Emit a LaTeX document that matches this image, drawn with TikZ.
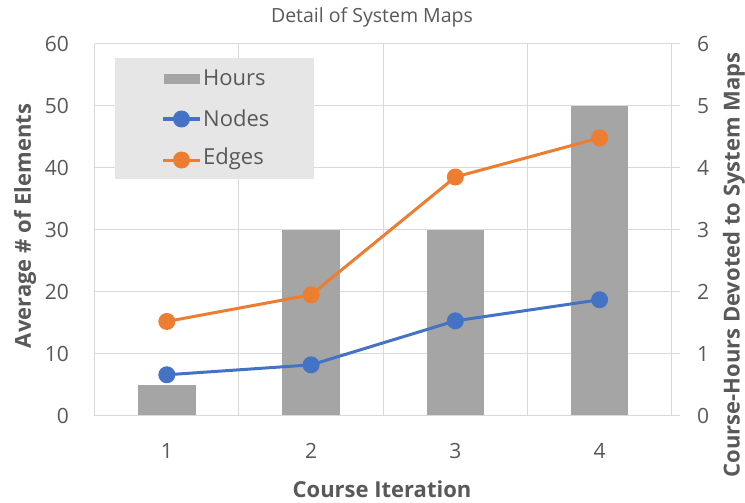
\documentclass[tikz,border=0pt]{standalone}
\usepackage{fontspec}
\setmainfont{Open Sans}
\definecolor{txt}{HTML}{595959}
\definecolor{gridc}{HTML}{D9D9D9}
\definecolor{barc}{HTML}{A5A5A5}
\definecolor{bluec}{HTML}{4472C4}
\definecolor{orangec}{HTML}{ED7D31}
\definecolor{legc}{HTML}{E6E6E6}
\begin{document}
\begin{tikzpicture}[x=1pt,y=-1pt,
  grid/.style={draw=gridc,line width=1pt},
  bar/.style={fill=barc,draw=none},
  series/.style={line width=3pt,line join=round},
  marker/.style={circle,inner sep=0pt,minimum size=17pt,draw=none},
  ticklab/.style={text=txt,font=\fontsize{21}{24}\selectfont,inner sep=0pt},
  axtitle/.style={text=txt,font=\fontsize{22}{26}\selectfont\bfseries,inner sep=0pt},
  leglab/.style={text=txt,font=\fontsize{22}{26}\selectfont,inner sep=0pt,anchor=west}]
\useasboundingbox (0,0) rectangle (745,503);
\fill[white] (0,0) rectangle (745,503);
% plot frame: x from 94.7 to 671.7, value 0 at y=415.7, 6.2 px per unit
\def\L{94.7}\def\R{671.7}\def\B{415.7}\def\T{43.7}
% horizontal gridlines and tick labels
\foreach \v/\h in {0/0,10/1,20/2,30/3,40/4,50/5,60/6}{
  \draw[grid] (\L,{\B-\v*6.2}) -- (680,{\B-\v*6.2});
  \node[ticklab,anchor=east] (yl\v) at (69,{\B-\v*6.2}) {\v};
  \node[ticklab,anchor=west] (yr\h) at (697,{\B-\v*6.2}) {\h};
}
% vertical category gridlines
\foreach \i in {0,1,2,3,4}{
  \draw[grid] ({\L+\i*144.25},\T) -- ({\L+\i*144.25},\B);
}
% bars (secondary axis, hours)
\foreach \i/\h in {1/0.5,2/3,3/3,4/5}{
  \fill[bar] ({\L+(\i-0.5)*144.25-28.7},\B) rectangle ({\L+(\i-0.5)*144.25+28.7},{\B-\h*62});
  \node[ticklab] (xl\i) at ({\L+(\i-0.5)*144.25},451) {\i};
}
\draw[grid] (\L,\B) -- (680,\B);
% series points
\foreach \i/\n/\e in {1/6.6/15.2,2/8.2/19.5,3/15.3/38.5,4/18.7/44.8}{
  \coordinate (n\i) at ({\L+(\i-0.5)*144.25},{\B-\n*6.2});
  \coordinate (e\i) at ({\L+(\i-0.5)*144.25},{\B-\e*6.2});
}
\draw[series,bluec] (n1) -- (n2) -- (n3) -- (n4);
\draw[series,orangec] (e1) -- (e2) -- (e3) -- (e4);
\foreach \i in {1,2,3,4}{
  \node[marker,fill=bluec] (nm\i) at (n\i) {};
  \node[marker,fill=orangec] (em\i) at (e\i) {};
}
% legend
\node[fill=legc,minimum width=199pt,minimum height=121pt,inner sep=0pt,anchor=north west] (legend) at (115,58) {};
\fill[barc] (164,74) rectangle (200,84);
\node[leglab] (lh) at (203,78) {Hours};
\coordinate (lb1) at (163,119);\coordinate (lb2) at (200,119);
\draw[series,bluec] (lb1) -- (lb2);
\node[marker,fill=bluec] (lbm) at (181.5,119) {};
\node[leglab] (ln) at (203,118) {Nodes};
\coordinate (lo1) at (163,160);\coordinate (lo2) at (200,160);
\draw[series,orangec] (lo1) -- (lo2);
\node[marker,fill=orangec] (lom) at (181.5,160) {};
\node[leglab] (le) at (203,159) {Edges};
% titles
\node[text=txt,font=\fontsize{19.5}{22}\selectfont,inner sep=0pt] (title) at (372,17) {Detail of System Maps};
\node[axtitle] (xt) at (382,489) {Course Iteration};
\node[axtitle,rotate=90] (ylt) at (25,226) {Average \# of Elements};
\node[axtitle,rotate=90] (yrt) at (734,265) {Course-Hours Devoted to System Maps};
\end{tikzpicture}
\end{document}
